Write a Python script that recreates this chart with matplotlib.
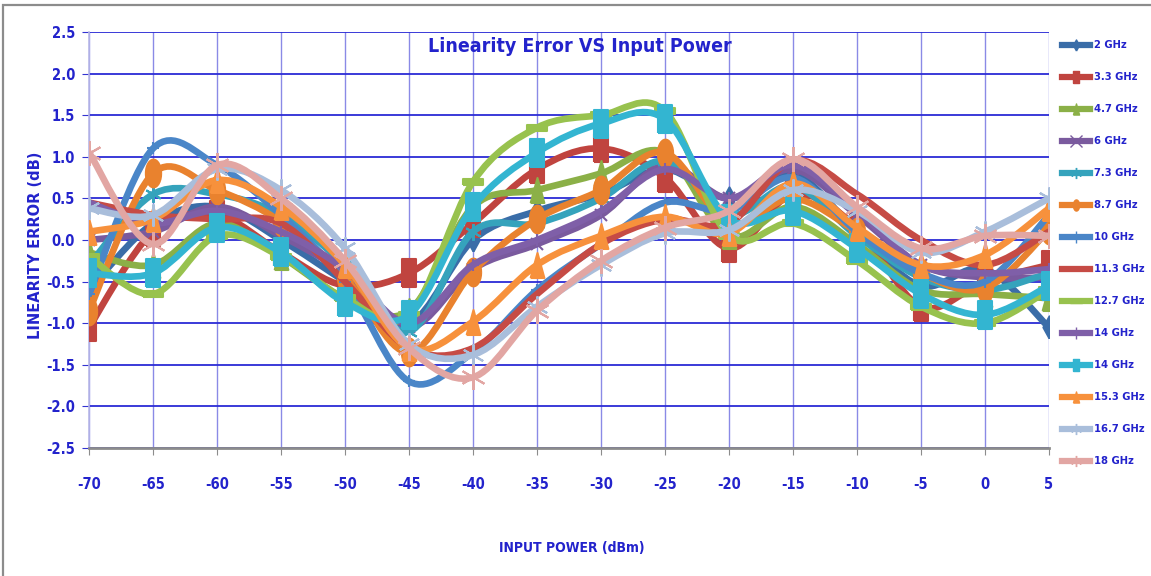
import numpy as np
import matplotlib
matplotlib.use("Agg")
import matplotlib.pyplot as plt
from matplotlib import font_manager as fm
from matplotlib.path import Path
from matplotlib.patches import PathPatch, Rectangle
from matplotlib.lines import Line2D

power = [-70, -65, -60, -55, -50, -45, -40, -35, -30, -25, -20, -15, -10, -5, 0, 5]

labels = ['2 GHz', '3.3 GHz', '4.7 GHz', '6 GHz', '7.3 GHz', '8.7 GHz', '10 GHz',
          '11.3 GHz', '12.7 GHz', '14 GHz', '14 GHz', '15.3 GHz', '16.7 GHz', '18 GHz']

err_2 = [-0.6, 0.2, 0.4, 0.0, -0.5, -1.0, 0.0, 0.35, 0.55, 0.85, 0.5, 0.8, 0.1, -0.55, -0.35, -1.05]
err_3_3 = [-1.05, 0.1, 0.3, -0.15, -0.55, -0.4, 0.2, 0.85, 1.1, 0.75, -0.1, 0.55, 0.15, -0.8, -0.5, -0.3]
err_4_7 = [-0.15, -0.3, 0.2, -0.2, -0.7, -0.85, 0.4, 0.6, 0.8, 1.05, 0.05, 0.4, -0.05, -0.6, -0.65, -0.7]
err_6 = [0.0, 0.1, 0.4, 0.05, -0.4, -1.05, -0.35, -0.05, 0.3, 0.9, 0.5, 0.85, 0.3, -0.3, -0.45, -0.45]
err_7_3 = [-0.3, 0.55, 0.55, 0.3, -0.3, -1.1, 0.1, 0.2, 0.5, 0.95, 0.3, 0.65, 0.05, -0.45, -0.6, -0.4]
err_8_7 = [-0.85, 0.8, 0.6, 0.22, -0.45, -1.35, -0.38, 0.25, 0.6, 1.05, 0.2, 0.5, 0.1, -0.4, -0.58, 0.12]
err_10 = [-0.65, 1.1, 0.9, 0.3, -0.5, -1.7, -1.35, -0.6, -0.05, 0.45, 0.35, 0.75, 0.1, -0.4, -0.5, 0.3]
err_11_3 = [0.45, 0.3, 0.25, 0.2, -0.5, -1.3, -1.3, -0.65, -0.05, 0.25, 0.2, 0.95, 0.55, 0.0, -0.3, 0.1]
err_12_7 = [-0.2, -0.65, 0.05, -0.2, -0.7, -0.9, 0.7, 1.35, 1.5, 1.55, 0.05, 0.2, -0.25, -0.8, -1.0, -0.6]
err_14a = [0.45, 0.2, 0.35, 0.1, -0.35, -1.0, -0.3, 0.0, 0.35, 0.85, 0.5, 0.9, 0.35, -0.3, -0.4, -0.35]
err_14b = [-0.4, -0.4, 0.15, -0.15, -0.75, -0.9, 0.4, 1.05, 1.4, 1.45, 0.25, 0.35, -0.1, -0.65, -0.9, -0.55]
err_15_3 = [0.1, 0.25, 0.72, 0.4, -0.3, -1.3, -0.98, -0.3, 0.05, 0.28, 0.08, 0.68, 0.15, -0.3, -0.18, 0.38]
err_16_7 = [0.38, 0.3, 0.85, 0.6, -0.1, -1.25, -1.38, -0.8, -0.3, 0.08, 0.12, 0.6, 0.35, -0.15, 0.1, 0.5]
err_18 = [1.05, -0.05, 0.9, 0.5, -0.25, -1.3, -1.65, -0.85, -0.25, 0.15, 0.35, 0.97, 0.4, -0.1, 0.05, 0.05]

series = [err_2, err_3_3, err_4_7, err_6, err_7_3, err_8_7, err_10,
          err_11_3, err_12_7, err_14a, err_14b, err_15_3, err_16_7, err_18]

colors = ['#3A6DA8', '#C0443F', '#8BB047', '#7A5A9E', '#35A3BC', '#E9822E', '#4A86C8',
          '#C64B45', '#98C24E', '#7F5FA8', '#33B5D1', '#F7913C', '#A9BEDB', '#E2A6A3']

# tall marker shapes (the original picture is squeezed sideways)
rect = [(-0.5, -1), (0.5, -1), (0.5, 1), (-0.5, 1), (-0.5, -1)]
diam = [(0, -1), (0.55, 0), (0, 1), (-0.55, 0), (0, -1)]
tri = [(-0.55, -1), (0.55, -1), (0, 1), (-0.55, -1)]
t = np.linspace(0, 2 * np.pi, 30)
ell = list(zip(0.55 * np.cos(t), np.sin(t)))
dash = [(-0.7, -0.25), (0.7, -0.25), (0.7, 0.25), (-0.7, 0.25), (-0.7, -0.25)]
star = (6, 2, 0)

markers = [diam, rect, tri, 'x', star, ell, '+', None, dash, '+', rect, tri, star, star]
msizes = [16, 20, 18, 9, 12, 20, 9, 0, 14, 9, 20, 18, 16, 18]

blue = '#2323CC'


# pick a narrow bold face if one is installed
def narrow_font(bold=True):
    best = None
    for f in fm.fontManager.ttflist:
        name = f.name.lower()
        narrow = ('narrow' in name or 'condensed' in name or
                  f.stretch in ('condensed', 'semi-condensed', 'extra-condensed', 'ultra-condensed'))
        if not narrow:
            continue
        w = f.weight if isinstance(f.weight, int) else (700 if 'bold' in str(f.weight) else 400)
        if bold and w < 600:
            continue
        if 'italic' in f.style or 'oblique' in f.style:
            continue
        best = f.fname
        break
    return best


path_b = narrow_font(True)
if path_b:
    def fp(size):
        return fm.FontProperties(fname=path_b, size=size)
else:
    def fp(size):
        return fm.FontProperties(family='Liberation Sans', weight='bold', size=size * 0.85)

fig = plt.figure(figsize=(11.51, 5.76), dpi=100)
ax = fig.add_axes([89 / 1151, 1 - 448 / 576, 960 / 1151, 416 / 576])

fig.patches.append(Rectangle((3 / 1151, -0.05), 1.2, 1 - 5 / 576 + 0.05,
                             transform=fig.transFigure, fill=False,
                             edgecolor='#8C8C8C', linewidth=1.6))


def smooth_path(xs, ys):
    pts = np.column_stack([xs, ys]).astype(float)
    n = len(pts)
    verts = [pts[0]]
    codes = [Path.MOVETO]
    for i in range(n - 1):
        p0 = pts[max(i - 1, 0)]
        p1 = pts[i]
        p2 = pts[i + 1]
        p3 = pts[min(i + 2, n - 1)]
        verts += [p1 + (p2 - p0) / 6, p2 - (p3 - p1) / 6, p2]
        codes += [Path.CURVE4] * 3
    return Path(verts, codes)


handles = []
for k, ys in enumerate(series):
    c = colors[k]
    ax.add_patch(PathPatch(smooth_path(power, ys), facecolor='none', edgecolor=c,
                           linewidth=4.8, capstyle='round', joinstyle='round', zorder=3 + k))
    m = markers[k]
    if m is not None:
        ax.plot(power, ys, linestyle='none', marker=m, markersize=msizes[k],
                markerfacecolor=c, markeredgecolor=c, markeredgewidth=1.5, zorder=3.5 + k)
    handles.append(Line2D([], [], color=c, linewidth=4.5,
                          marker=(m if m is not None else None),
                          markersize=min(msizes[k], 8) if m is not None else 0,
                          markerfacecolor=c, markeredgecolor=c))

ax.set_xlim(-70, 5)
ax.set_ylim(-2.5, 2.5)
ax.set_xticks(power)
ax.set_yticks(np.arange(-2.5, 2.51, 0.5))
ax.set_xticklabels([str(v) for v in power])
ax.set_yticklabels(['%.1f' % v for v in np.arange(-2.5, 2.51, 0.5)])

ax.grid(axis='y', color='#2B2BD6', linewidth=1.3, zorder=0)
ax.grid(axis='x', color='#8A8AE6', linewidth=1.0, zorder=0)
ax.set_axisbelow(True)

for s in ['top', 'right']:
    ax.spines[s].set_visible(False)
ax.spines['left'].set_color('#B8B8E8')
ax.spines['left'].set_linewidth(1.2)
ax.spines['bottom'].set_color('#8C8C8C')
ax.spines['bottom'].set_linewidth(2)

ax.tick_params(axis='x', direction='out', length=5, color='#8C8C8C', pad=16)
ax.tick_params(axis='y', direction='out', length=5, color='#3333D0', pad=5)
for lab in ax.get_xticklabels() + ax.get_yticklabels():
    lab.set_fontproperties(fp(10.5))
    lab.set_color(blue)

fig.text(580 / 1151, 1 - 47 / 576, 'Linearity Error VS Input Power', ha='center', va='center',
         fontproperties=fp(14), color=blue)
fig.text(36 / 1151, 1 - 245 / 576, 'LINEARITY ERROR (dB)', rotation=90, ha='center',
         va='center', family='DejaVu Sans', fontweight='bold', fontsize=10.5, color=blue)
fig.text(572 / 1151, 1 - 548 / 576, 'INPUT POWER (dBm)', ha='center', va='center',
         fontproperties=fp(10), color=blue)

leg = fig.legend(handles, labels, loc='upper left', bbox_to_anchor=(1058 / 1151, 1 - 36 / 576),
                 frameon=False, prop=fp(8), labelspacing=1.98, handlelength=2.5,
                 handletextpad=0.3, borderaxespad=0)
for txt in leg.get_texts():
    txt.set_color(blue)

fig.savefig('out.png', dpi=100)
